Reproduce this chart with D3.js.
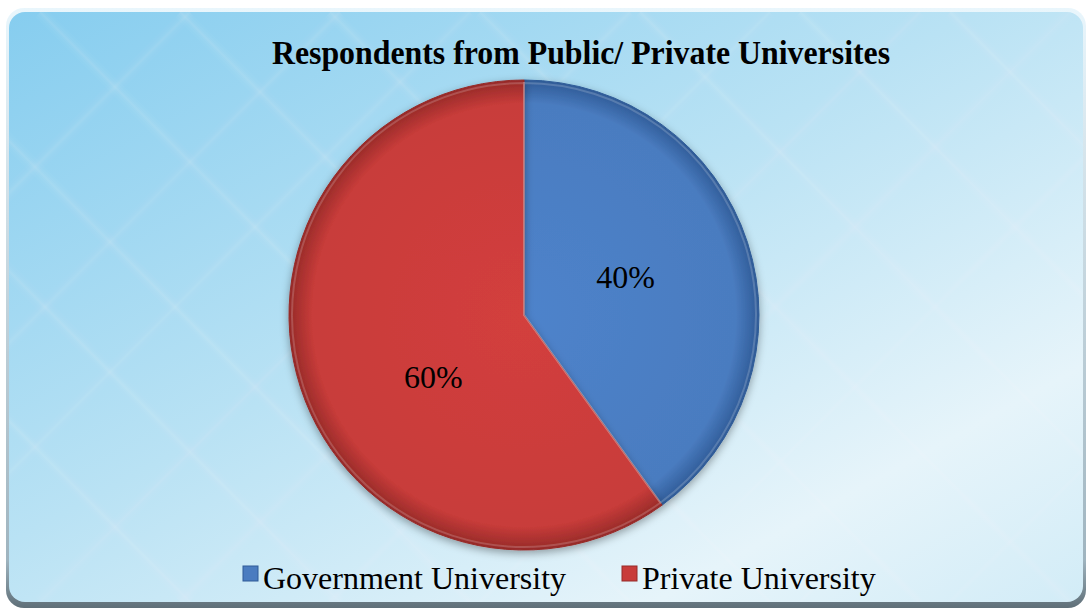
<!DOCTYPE html>
<html>
<head>
<meta charset="utf-8">
<script src="https://cdn.jsdelivr.net/npm/d3@7"></script>
<style>
  html, body { margin: 0; padding: 0; background: #ffffff; }
  svg { display: block; }
</style>
</head>
<body>
<svg id="chart" width="1088" height="616"></svg>
<script>
// Chart data
const title = "Respondents from Public/ Private Universites";
const categories = ["Government University", "Private University"];
const values = [40, 60];
const colors = ["#4a7cc0", "#c83c3a"];
const edgeColors = ["#2f5b97", "#962a28"];

const SERIF = '"Liberation Serif"';
const width = 1088, height = 616;
const svg = d3.select("#chart");
const defs = svg.append("defs");

// Background panel gradient: saturated sky blue top-left fading to near white bottom-right
const bg = defs.append("linearGradient").attr("id", "bgGrad")
  .attr("x1", "0").attr("y1", "0").attr("x2", "1").attr("y2", "1");
bg.append("stop").attr("offset", "0%").attr("stop-color", "#86cdef");
bg.append("stop").attr("offset", "45%").attr("stop-color", "#b9e2f4");
bg.append("stop").attr("offset", "80%").attr("stop-color", "#e6f4fa");
bg.append("stop").attr("offset", "100%").attr("stop-color", "#d2ecf7");

const edge = defs.append("linearGradient").attr("id", "edgeGrad")
  .attr("x1", "0").attr("y1", "0").attr("x2", "0").attr("y2", "1");
edge.append("stop").attr("offset", "0%").attr("stop-color", "#e9f6fc");
edge.append("stop").attr("offset", "92%").attr("stop-color", "#9fb4bf");
edge.append("stop").attr("offset", "100%").attr("stop-color", "#5f6f78");

const shadow = defs.append("filter").attr("id", "pieShadow")
  .attr("x", "-20%").attr("y", "-20%").attr("width", "140%").attr("height", "140%");
shadow.append("feDropShadow").attr("dx", 0).attr("dy", 3).attr("stdDeviation", 4)
  .attr("flood-color", "#000").attr("flood-opacity", 0.35);

// Outer frame with rounded corners and darker bottom rim
svg.append("rect").attr("x", 6).attr("y", 8).attr("width", 1080).attr("height", 600)
  .attr("rx", 18).attr("fill", "url(#edgeGrad)");
svg.append("rect").attr("x", 9).attr("y", 12).attr("width", 1074).attr("height", 590)
  .attr("rx", 16).attr("fill", "url(#bgGrad)");

// Soft diagonal light streaks: stacked strokes of falling opacity give a feathered edge
defs.append("clipPath").attr("id", "panelClip")
  .append("rect").attr("x", 9).attr("y", 12).attr("width", 1074).attr("height", 590).attr("rx", 16);
const streaks = svg.append("g").attr("clip-path", "url(#panelClip)");
const streakOffsets = [-400, -250, -120, 40, 180, 330, 480, 640, 800, 950];
const feather = [[14, 0.025], [9, 0.03], [5, 0.04], [2, 0.05]];
streakOffsets.forEach(o => {
  feather.forEach(([w, a]) => {
    streaks.append("line").attr("x1", o).attr("y1", 12).attr("x2", o + 590).attr("y2", 602)
      .attr("stroke", "#ffffff").attr("stroke-opacity", a).attr("stroke-width", w);
    streaks.append("line").attr("x1", o + 590).attr("y1", 12).attr("x2", o).attr("y2", 602)
      .attr("stroke", "#ffffff").attr("stroke-opacity", a * 0.8).attr("stroke-width", w);
  });
});

// Title (slightly condensed horizontally)
svg.append("g").attr("transform", "translate(581,64) scale(0.965,1)")
  .append("text").attr("x", 0).attr("y", 0)
  .attr("text-anchor", "middle")
  .style("font-family", SERIF)
  .attr("font-weight", "bold").attr("font-size", 33).attr("fill", "#000")
  .text(title);

// Pie
const cx = 524, cy = 315, r = 235;
const pie = d3.pie().sort(null).value(d => d)(values);
const arc = d3.arc().innerRadius(0).outerRadius(r);

// Slice gradients: lighter toward the centre, deeper at the rim
colors.forEach((c, i) => {
  const g = defs.append("radialGradient").attr("id", "slice" + i)
    .attr("gradientUnits", "userSpaceOnUse")
    .attr("cx", 0).attr("cy", 0).attr("r", r);
  g.append("stop").attr("offset", "0%").attr("stop-color", d3.color(c).brighter(0.15));
  g.append("stop").attr("offset", "90%").attr("stop-color", c);
  g.append("stop").attr("offset", "100%").attr("stop-color", edgeColors[i]);
});

const pg = svg.append("g").attr("transform", `translate(${cx},${cy})`);
pg.selectAll("path.slice").data(pie).join("path")
  .attr("class", "slice")
  .attr("d", arc)
  .attr("fill", (d, i) => `url(#slice${i})`)
  .attr("stroke", (d, i) => edgeColors[i])
  .attr("stroke-width", 1)
  .attr("filter", "url(#pieShadow)");

// Inner highlight along slice edges
pg.selectAll("path.hl").data(pie).join("path")
  .attr("class", "hl")
  .attr("d", d3.arc().innerRadius(0).outerRadius(r - 3))
  .attr("fill", "none")
  .attr("stroke", "#ffffff").attr("stroke-opacity", 0.18).attr("stroke-width", 2);

// Percentage labels, placed at the slice centroid with a small best-fit nudge
const labelArc = d3.arc().innerRadius(r * 0.45).outerRadius(r * 0.45);
const labelNudge = [[1, -6], [10, 29]];
pg.selectAll("text.pct").data(pie).join("text")
  .attr("class", "pct")
  .attr("transform", (d, i) => {
    const [x, y] = labelArc.centroid(d);
    return `translate(${x + labelNudge[i][0]},${y + labelNudge[i][1]})`;
  })
  .attr("text-anchor", "middle").attr("dy", "0.35em")
  .style("font-family", SERIF)
  .attr("font-size", 32).attr("fill", "#000")
  .text(d => d.data + "%");

// Legend
const legendX = [243, 622];
const lg = svg.append("g");
categories.forEach((name, i) => {
  const g = lg.append("g").attr("transform", `translate(${legendX[i]},578)`);
  g.append("rect").attr("x", 0).attr("y", -12).attr("width", 15).attr("height", 15)
    .attr("fill", colors[i]).attr("stroke", edgeColors[i]).attr("stroke-width", 1);
  g.append("text").attr("x", 20).attr("y", 0)
    .attr("dy", "0.33em")
    .style("font-family", SERIF)
    .attr("font-size", 32).attr("fill", "#000")
    .text(name);
});
</script>
</body>
</html>
